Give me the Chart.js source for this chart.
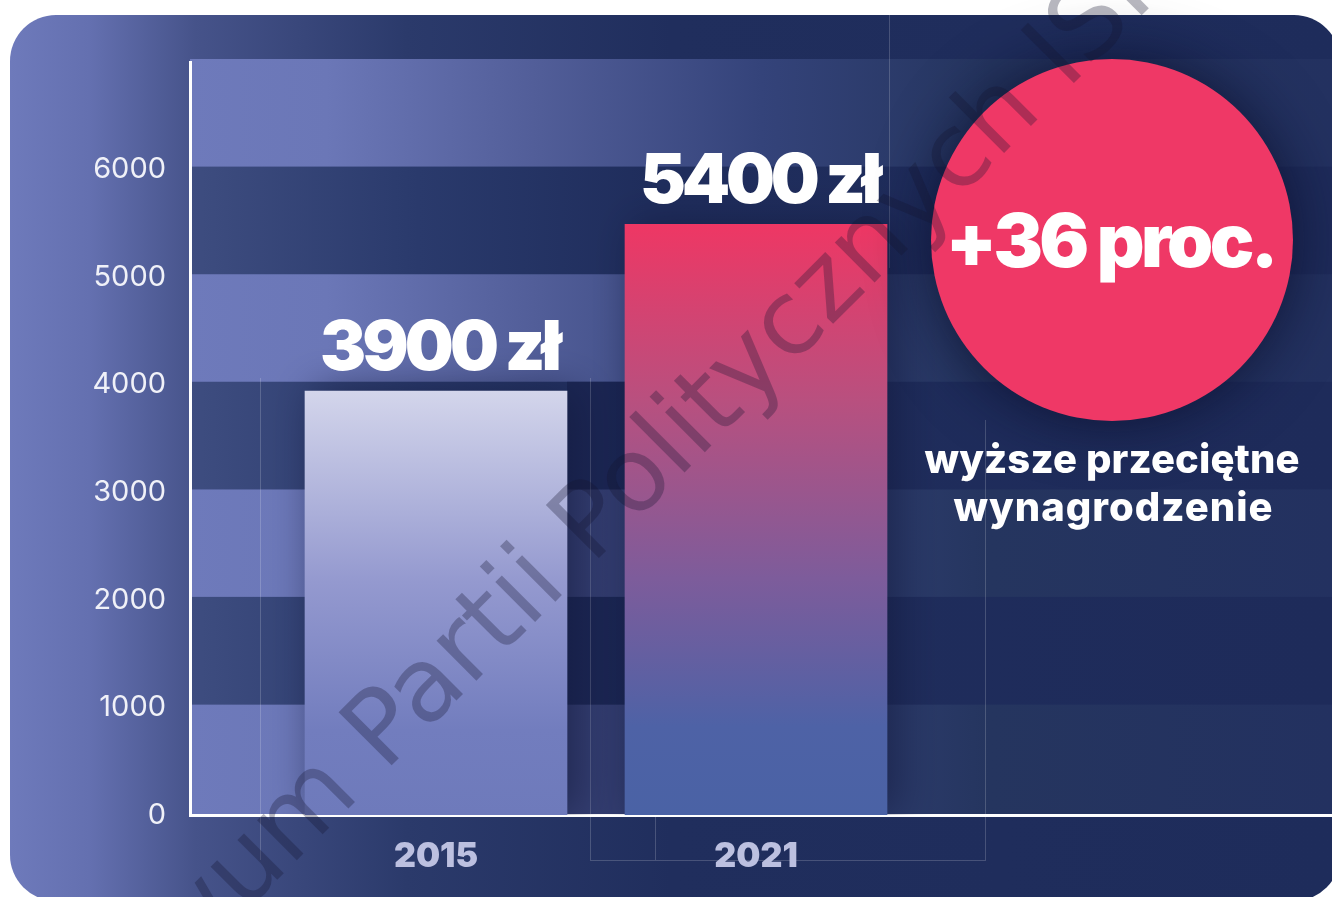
<!DOCTYPE html>
<html>
<head>
<meta charset="utf-8">
<script src="https://cdn.jsdelivr.net/npm/chart.js@4.4.0/dist/chart.umd.min.js"></script>
<style>
  html, body { margin: 0; padding: 0; background: #fff; overflow: hidden; }
  canvas { display: block; }
</style>
</head>
<body>
<canvas id="chart" width="1332" height="897"></canvas>
<script>
// data
const years = ['2015', '2021'];
const salaries = [3940, 5490];            // bar heights as drawn
const valueLabels = ['3900 zł', '5400 zł'];
const yTicks = [0, 1000, 2000, 3000, 4000, 5000, 6000];
const yMax = 7000;
const increaseLabel = '+36 proc.';
const increaseNote = ['wyższe przeciętne', 'wynagrodzenie'];
const watermark = 'Archiwum Partii Politycznych ISP';

const FONT = 'Inter, "Open Sans", sans-serif';

// set font and squeeze/stretch letter spacing so text hits a target width
function fitFont(ctx, text, size, weight, width) {
  ctx.letterSpacing = '0px';
  ctx.font = `${weight} ${size}px ${FONT}`;
  const w = ctx.measureText(text).width;
  const n = [...text].length;
  const ls = (width - w) / n;
  ctx.letterSpacing = ls + 'px';
  return ls;
}

function drawFitted(ctx, text, cx, baseline, size, weight, width) {
  const ls = fitFont(ctx, text, size, weight, width);
  ctx.textAlign = 'center';
  ctx.textBaseline = 'alphabetic';
  ctx.fillText(text, cx + ls / 2, baseline);
  ctx.letterSpacing = '0px';
}

const backdrop = {
  id: 'backdrop',
  beforeDraw(chart) {
    const { ctx, chartArea: a, scales: { y } } = chart;
    ctx.save();
    ctx.fillStyle = '#fff';
    ctx.fillRect(0, 0, chart.width, chart.height);

    // card
    const g = ctx.createLinearGradient(10, 0, 1332, 0);
    g.addColorStop(0, '#6e7abb');
    g.addColorStop(0.06, '#6470b0');
    g.addColorStop(0.14, '#46538a');
    g.addColorStop(0.3, '#2b3a6b');
    g.addColorStop(0.5, '#202e5d');
    g.addColorStop(1, '#1e2c5b');
    ctx.beginPath();
    ctx.roundRect(10, 15, 1330, 886, 46);
    ctx.fillStyle = g;
    ctx.fill();

    // stripes
    const light = ctx.createLinearGradient(a.left, 0, a.right, 0);
    light.addColorStop(0, '#6e7abb');
    light.addColorStop(0.12, '#6b77b7');
    light.addColorStop(0.3, '#525e99');
    light.addColorStop(0.5, '#34437a');
    light.addColorStop(0.7, '#25355f');
    light.addColorStop(1, '#233160');
    const dark = ctx.createLinearGradient(a.left, 0, a.right, 0);
    dark.addColorStop(0, '#3e4d80');
    dark.addColorStop(0.2, '#2a3a6c');
    dark.addColorStop(0.4, '#1f2d5c');
    dark.addColorStop(1, '#1e2b5a');
    for (let v = 0; v < yMax; v += 1000) {
      const top = v + 1000 >= yMax ? a.top - 3 : y.getPixelForValue(v + 1000) - 3;
      const bot = v === 0 ? a.bottom : y.getPixelForValue(v) - 3;
      ctx.fillStyle = (v / 1000) % 2 === 0 ? light : dark;
      ctx.fillRect(a.left, top, a.width, bot - top);
    }

    // darker strip between the two bars
    const bars = chart.getDatasetMeta(0).data;
    if (bars.length === 2) {
      const x0 = bars[0].x + bars[0].width / 2;
      const x1 = bars[1].x - bars[1].width / 2;
      const top = y.getPixelForValue(4000) - 3;
      ctx.fillStyle = 'rgba(15,22,60,0.38)';
      ctx.fillRect(x0, top, x1 - x0, a.bottom - top);
    }

    // faint frame lines
    ctx.strokeStyle = 'rgba(255,255,255,0.18)';
    ctx.lineWidth = 1;
    ctx.beginPath();
    ctx.moveTo(260.5, 378); ctx.lineTo(260.5, 860);
    ctx.moveTo(590.5, 378); ctx.lineTo(590.5, 860);
    ctx.moveTo(655.5, 700); ctx.lineTo(655.5, 860);
    ctx.moveTo(985.5, 420); ctx.lineTo(985.5, 860);
    ctx.moveTo(590, 860.5); ctx.lineTo(986, 860.5);
    ctx.moveTo(889.5, 15); ctx.lineTo(889.5, 268);
    ctx.stroke();
    ctx.restore();
  },
  beforeDatasetsDraw(chart) {
    const ctx = chart.ctx;
    ctx.save();
    ctx.shadowColor = 'rgba(18,24,60,0.65)';
    ctx.shadowBlur = 40;
    ctx.shadowOffsetX = 10;
  },
  afterDatasetsDraw(chart) {
    chart.ctx.restore();
  },
  afterDraw(chart) {
    const { ctx } = chart;
    const meta = chart.getDatasetMeta(0);
    ctx.save();
    ctx.fillStyle = '#fff';

    // values above bars
    meta.data.forEach((bar, i) => {
      drawFitted(ctx, valueLabels[i], bar.x + 5, bar.y - 21, 69, 900, 238);
    });

    // circle
    ctx.save();
    ctx.shadowColor = 'rgba(8,12,40,0.75)';
    ctx.shadowBlur = 60;
    ctx.beginPath();
    ctx.arc(1112, 240, 181, 0, Math.PI * 2);
    ctx.fillStyle = '#ef3866';
    ctx.fill();
    ctx.restore();

    ctx.fillStyle = '#fff';
    drawFitted(ctx, increaseLabel, 1112, 267, 74, 900, 329);
    drawFitted(ctx, increaseNote[0], 1112, 473, 40, 800, 375);
    drawFitted(ctx, increaseNote[1], 1113, 521, 40, 800, 320);

    // watermark
    ctx.translate(0, 1157);
    ctx.rotate(-Math.PI / 4);
    ctx.font = '103px "DejaVu Sans", sans-serif';
    ctx.textAlign = 'left';
    ctx.textBaseline = 'alphabetic';
    ctx.fillStyle = 'rgba(20,20,45,0.3)';
    ctx.fillText(watermark, 0, 0);
    ctx.restore();
  }
};

new Chart(document.getElementById('chart').getContext('2d'), {
  type: 'bar',
  data: {
    datasets: [{
      data: years.map((yr, i) => ({ x: i, y: salaries[i] })),
      barThickness: 262,
      borderWidth: 0,
      backgroundColor: (c) => {
        const chart = c.chart;
        const a = chart.chartArea;
        if (!a || c.dataIndex === undefined) return '#8890c8';
        const top = chart.scales.y.getPixelForValue(salaries[c.dataIndex]);
        const g = chart.ctx.createLinearGradient(0, top, 0, a.bottom);
        if (c.dataIndex === 0) {
          g.addColorStop(0, '#d3d5eb');
          g.addColorStop(0.45, '#9499cf');
          g.addColorStop(0.8, '#727dbe');
          g.addColorStop(1, '#6e7abb');
        } else {
          g.addColorStop(0, '#ee3764');
          g.addColorStop(0.3, '#b8507f');
          g.addColorStop(0.6, '#7d5c9b');
          g.addColorStop(0.85, '#4e62a6');
          g.addColorStop(1, '#4a62a5');
        }
        return g;
      }
    }]
  },
  options: {
    responsive: false,
    animation: false,
    devicePixelRatio: 1,
    layout: { padding: { top: 62, right: 0, bottom: 0, left: 0 } },
    plugins: { legend: { display: false }, tooltip: { enabled: false } },
    scales: {
      x: {
        type: 'linear',
        offset: false,
        min: -0.76875,
        max: 2.8,
        grid: { display: false, drawTicks: false },
        border: { display: true, color: '#ffffff', width: 3 },
        afterBuildTicks: (s) => { s.ticks = years.map((yr, i) => ({ value: i })); },
        afterFit: (s) => { s.height = 82; },
        ticks: {
          padding: 21,
          color: '#bcc0e0',
          font: { family: FONT, size: 34, weight: '900' },
          callback: (v) => years[v] ?? ''
        }
      },
      y: {
        min: 0,
        max: yMax,
        grid: { display: false, drawTicks: false },
        border: { display: true, color: '#ffffff', width: 3 },
        afterBuildTicks: (s) => { s.ticks = yTicks.map(v => ({ value: v })); },
        afterFit: (s) => { s.width = 190; },
        ticks: {
          padding: 24,
          color: '#f0f1f8',
          font: { family: FONT, size: 29, weight: '400' },
          callback: (v) => String(v)
        }
      }
    }
  },
  plugins: [backdrop]
});
</script>
</body>
</html>
